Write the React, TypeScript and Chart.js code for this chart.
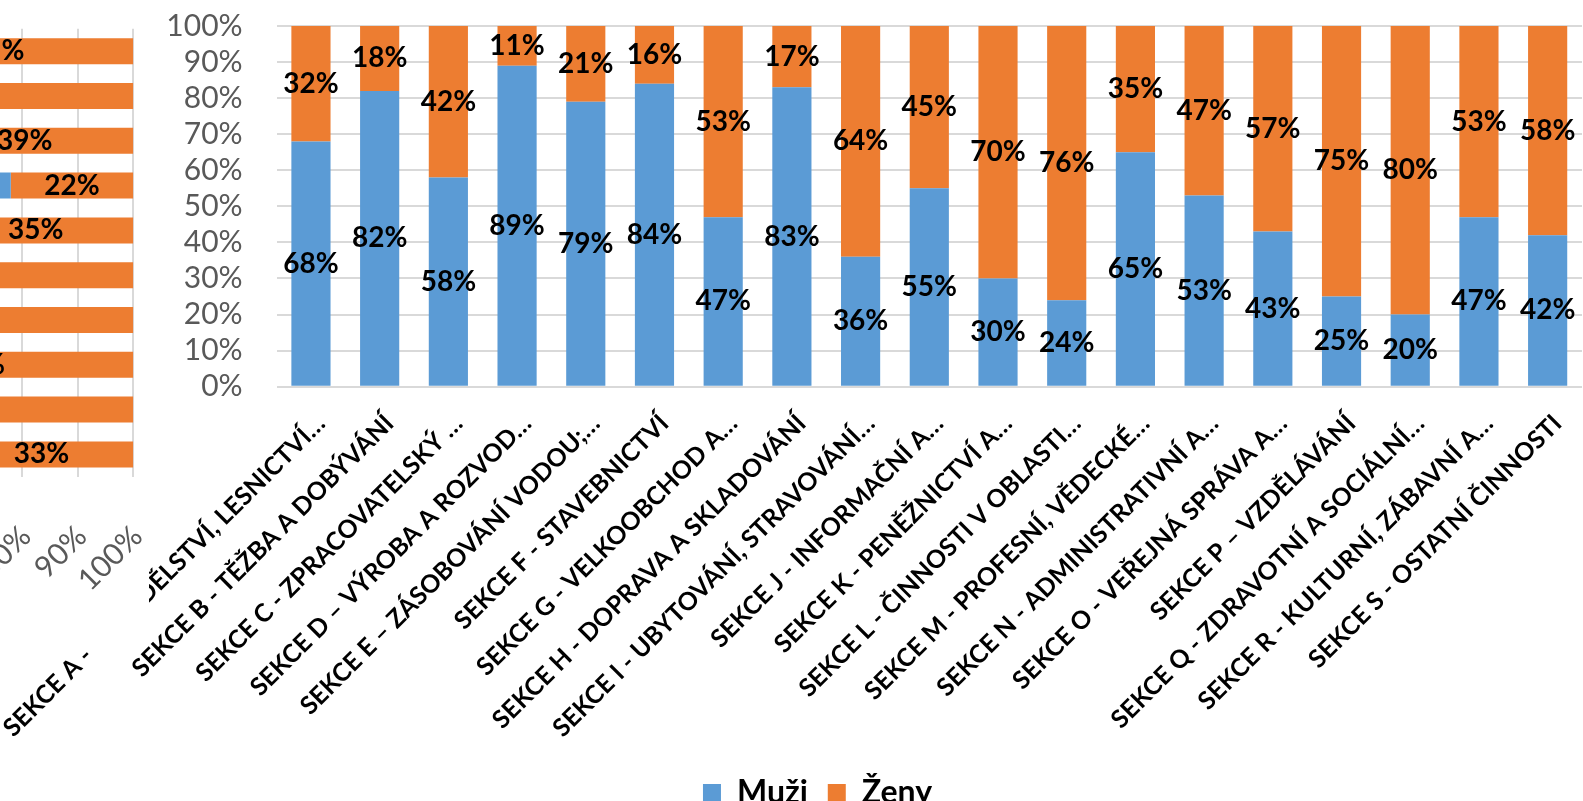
import React, { useEffect, useRef } from "react";
import { Chart, registerables } from "chart.js";

Chart.register(...registerables);

// ---------- main chart data ----------
const categories = [
  "SEKCE A - ZEMĚDĚLSTVÍ, LESNICTVÍ…",
  "SEKCE B - TĚŽBA A DOBÝVÁNÍ",
  "SEKCE C - ZPRACOVATELSKÝ …",
  "SEKCE D – VÝROBA A ROZVOD…",
  "SEKCE E – ZÁSOBOVÁNÍ VODOU;…",
  "SEKCE F - STAVEBNICTVÍ",
  "SEKCE G - VELKOOBCHOD A…",
  "SEKCE H - DOPRAVA A SKLADOVÁNÍ",
  "SEKCE I - UBYTOVÁNÍ, STRAVOVÁNÍ…",
  "SEKCE J - INFORMAČNÍ A…",
  "SEKCE K - PENĚŽNICTVÍ A…",
  "SEKCE L - ČINNOSTI V OBLASTI…",
  "SEKCE M - PROFESNÍ, VĚDECKÉ…",
  "SEKCE N - ADMINISTRATIVNÍ A…",
  "SEKCE O - VEŘEJNÁ SPRÁVA A…",
  "SEKCE P – VZDĚLÁVÁNÍ",
  "SEKCE Q - ZDRAVOTNÍ A SOCIÁLNÍ…",
  "SEKCE R - KULTURNÍ, ZÁBAVNÍ A…",
  "SEKCE S - OSTATNÍ ČINNOSTI",
];
const muzi = [68, 82, 58, 89, 79, 84, 47, 83, 36, 55, 30, 24, 65, 53, 43, 25, 20, 47, 42];
const zeny = [32, 18, 42, 11, 21, 16, 53, 17, 64, 45, 70, 76, 35, 47, 57, 75, 80, 53, 58];
const seriesNames = ["Muži", "Ženy"];

// ---------- partially visible left chart data ----------
const leftCategories = ["1", "2", "3", "4", "5", "6", "7", "8", "9", "10"];
const leftMuzi = [51, 38, 61, 78, 65, 36, 32, 44, 40, 67];
const leftZeny = [49, 62, 39, 22, 35, 64, 68, 56, 60, 33];

const BLUE = "#5B9BD5";
const ORANGE = "#ED7D31";
const GRID = "#d9d9d9";
const FONT = "Lato";

const segLabels = {
  id: "segLabels",
  afterDatasetsDraw(chart: any, _args: any, opts: any) {
    const ctx = chart.ctx;
    const horizontal = chart.options.indexAxis === "y";
    ctx.save();
    ctx.font = `bold ${opts.size}px ${FONT}`;
    ctx.fillStyle = "#000";
    ctx.textAlign = "center";
    ctx.textBaseline = "middle";
    chart.data.datasets.forEach((ds: any, di: number) => {
      const meta = chart.getDatasetMeta(di);
      meta.data.forEach((el: any, i: number) => {
        const p = el.getProps(["x", "y", "base"], true);
        const cx = horizontal ? (p.x + p.base) / 2 : p.x;
        const cy = horizontal ? p.y : (p.y + p.base) / 2;
        ctx.fillText(ds.data[i] + "%", cx, cy);
      });
    });
    ctx.restore();
  },
};

const MAIN_H = 841;
const MAIN_PAD = { left: 53, right: 1, top: 26, bottom: 22 };
const AREA_LEFT = 276.6;
const AREA_BOTTOM = 386.7;

const LEFT_W = 613;
const LEFT_H = 642;
const LEFT_OFFSET = 450;

export default function App() {
  const mainRef = useRef<HTMLCanvasElement>(null);
  const leftRef = useRef<HTMLCanvasElement>(null);

  useEffect(() => {
    const main = new Chart(mainRef.current as HTMLCanvasElement, {
      type: "bar",
      data: {
        labels: categories,
        datasets: [
          { label: seriesNames[0], data: muzi, backgroundColor: BLUE, categoryPercentage: 1, barPercentage: 0.57 },
          { label: seriesNames[1], data: zeny, backgroundColor: ORANGE, categoryPercentage: 1, barPercentage: 0.57 },
        ],
      },
      options: {
        responsive: false,
        animation: false,
        layout: { padding: MAIN_PAD },
        scales: {
          x: {
            stacked: true,
            grid: { display: false, drawTicks: false },
            border: { display: false },
            ticks: {
              autoSkip: false,
              minRotation: 45,
              maxRotation: 45,
              color: "#000",
              padding: 22,
              labelOffset: 10,
              font: { family: FONT, weight: "bold", size: 25 },
            },
            afterFit: (s: any) => {
              s.paddingLeft = 0;
              s.paddingRight = 0;
              const lh = s.chart.legend ? s.chart.legend.height : 0;
              s.height = s.chart.height - MAIN_PAD.bottom - lh - AREA_BOTTOM;
            },
          },
          y: {
            stacked: true,
            min: 0,
            max: 100,
            ticks: {
              stepSize: 10,
              autoSkip: false,
              callback: (v: any) => v + "%",
              color: "#595959",
              padding: 34,
              font: { family: FONT, size: 30, lineHeight: 1 },
            },
            grid: { color: GRID, lineWidth: 2, drawTicks: false },
            border: { display: false },
            afterFit: (s: any) => {
              s.width = AREA_LEFT - MAIN_PAD.left;
              s.paddingTop = 0;
              s.paddingBottom = 0;
            },
          },
        },
        plugins: {
          legend: {
            position: "bottom",
            labels: {
              boxWidth: 18,
              boxHeight: 18,
              padding: 20,
              color: "#000",
              font: { family: FONT, weight: "bold", size: 32 },
            },
          },
          tooltip: { enabled: false },
          segLabels: { size: 28 },
        } as any,
      },
      plugins: [segLabels],
    } as any);

    const left = new Chart(leftRef.current as HTMLCanvasElement, {
      type: "bar",
      data: {
        labels: leftCategories,
        datasets: [
          { label: seriesNames[0], data: leftMuzi, backgroundColor: BLUE, categoryPercentage: 1, barPercentage: 0.58 },
          { label: seriesNames[1], data: leftZeny, backgroundColor: ORANGE, categoryPercentage: 1, barPercentage: 0.58 },
        ],
      },
      options: {
        indexAxis: "y",
        responsive: false,
        animation: false,
        layout: { padding: { left: LEFT_OFFSET - 423.7, right: LEFT_W - (LEFT_OFFSET + 133.3), top: 28.8, bottom: 0 } },
        scales: {
          x: {
            stacked: true,
            min: 0,
            max: 100,
            ticks: {
              stepSize: 10,
              autoSkip: false,
              callback: (v: any) => v + "%",
              color: "#595959",
              minRotation: 45,
              maxRotation: 45,
              padding: 42,
              labelOffset: 4,
              font: { family: FONT, size: 30 },
            },
            grid: { color: GRID, lineWidth: 2, drawTicks: false },
            border: { display: false },
            afterFit: (s: any) => {
              s.paddingLeft = 0;
              s.paddingRight = 0;
              s.height = LEFT_H - 476.8;
            },
          },
          y: { stacked: true, display: false },
        },
        plugins: {
          legend: { display: false },
          tooltip: { enabled: false },
          segLabels: { size: 28 },
        } as any,
      },
      plugins: [segLabels],
    } as any);

    return () => {
      main.destroy();
      left.destroy();
    };
  }, []);

  return (
    <div
      style={{
        position: "fixed",
        left: 0,
        top: 0,
        width: 1583,
        height: 801,
        overflow: "hidden",
        background: "#fff",
      }}
    >
      <canvas
        ref={mainRef}
        width={1583}
        height={MAIN_H}
        style={{ position: "absolute", left: 0, top: 0, width: 1583, height: MAIN_H }}
      />
      <div
        style={{
          position: "absolute",
          left: 0,
          top: 0,
          width: 149,
          height: LEFT_H,
          overflow: "hidden",
          background: "#fff",
          zIndex: 1,
        }}
      >
        <canvas
          ref={leftRef}
          width={LEFT_W}
          height={LEFT_H}
          style={{ position: "absolute", left: -LEFT_OFFSET, top: 0, width: LEFT_W, height: LEFT_H }}
        />
      </div>
      <div
        style={{
          position: "absolute",
          left: 94,
          top: 630,
          width: 32,
          height: 56,
          background: "#fff",
          zIndex: 1,
        }}
      />
    </div>
  );
}
